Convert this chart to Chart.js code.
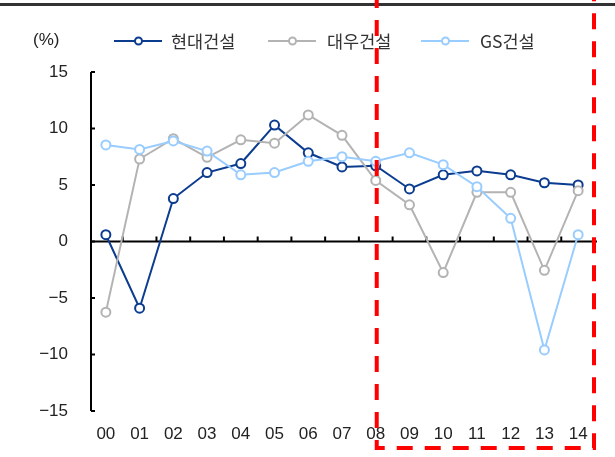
<!DOCTYPE html>
<html>
<head>
<meta charset="utf-8">
<script src="https://cdn.jsdelivr.net/npm/chart.js@4.4.1/dist/chart.umd.min.js"></script>
<style>
  html, body { margin: 0; padding: 0; background: #ffffff; }
  #wrap { position: relative; width: 615px; height: 457px; }
</style>
</head>
<body>
<div id="wrap"><canvas id="c" width="615" height="457"></canvas></div>
<script>
const categories = ['00','01','02','03','04','05','06','07','08','09','10','11','12','13','14'];
const hyundai = [0.6, -5.9, 3.8, 6.1, 6.9, 10.3, 7.85, 6.6, 6.7, 4.65, 5.9, 6.25, 5.9, 5.2, 5.0];
const daewoo  = [-6.25, 7.3, 9.1, 7.45, 9.0, 8.7, 11.2, 9.4, 5.4, 3.25, -2.75, 4.35, 4.35, -2.55, 4.5];
const gs      = [8.55, 8.15, 8.9, 8.0, 5.9, 6.1, 7.1, 7.5, 7.1, 7.85, 6.8, 4.85, 2.05, -9.6, 0.6];
const seriesNames = ['현대건설', '대우건설', 'GS건설'];
const seriesColors = ['#0b3c8f', '#b3b3b3', '#99ccff'];
const yTicks = [-15, -10, -5, 0, 5, 10, 15];
const unitLabel = '(%)';
const highlightFrom = '08';

const FONT = "'Liberation Sans', Arial, 'Noto Sans CJK KR', sans-serif";
const KFONT = "'Noto Sans CJK KR', 'Liberation Sans', sans-serif";

function ds(label, data, color) {
  return {
    label, data,
    borderColor: color,
    backgroundColor: '#ffffff',
    borderWidth: 2,
    pointRadius: 4.5,
    pointBorderWidth: 2,
    pointBackgroundColor: '#ffffff',
    pointBorderColor: color,
    pointHoverRadius: 4.5,
    tension: 0,
    clip: false
  };
}

const decor = {
  id: 'decor',
  beforeDatasetsDraw(chart) {
    const ctx = chart.ctx;
    const x = chart.scales.x, y = chart.scales.y;
    const ca = chart.chartArea;
    ctx.save();
    ctx.strokeStyle = '#000000';
    ctx.lineWidth = 2;
    const ax = ca.left + 2;
    ctx.beginPath();
    ctx.moveTo(ax, y.getPixelForValue(15));
    ctx.lineTo(ax, y.getPixelForValue(-15));
    ctx.stroke();
    yTicks.forEach(v => {
      const py = y.getPixelForValue(v);
      ctx.beginPath();
      ctx.moveTo(ax, py);
      ctx.lineTo(ax + 4, py);
      ctx.stroke();
    });
    const zy = y.getPixelForValue(0);
    ctx.beginPath();
    ctx.moveTo(ax, zy);
    ctx.lineTo(ca.right + 2, zy);
    ctx.stroke();
    for (let i = 1; i < categories.length; i++) {
      const px = (x.getPixelForValue(i - 1) + x.getPixelForValue(i)) / 2;
      ctx.beginPath();
      ctx.moveTo(px, zy);
      ctx.lineTo(px, zy - 5);
      ctx.stroke();
    }
    ctx.restore();
  },
  afterDraw(chart) {
    const ctx = chart.ctx;
    const x = chart.scales.x;
    const ca = chart.chartArea;
    ctx.save();
    ctx.fillStyle = '#333333';
    ctx.fillRect(0, 3, chart.width, 3);
    ctx.fillStyle = '#222222';
    ctx.font = '17px ' + FONT;
    ctx.textBaseline = 'middle';
    ctx.textAlign = 'left';
    ctx.fillText(unitLabel, 33, 40);
    const items = [
      { lx: 114, tx: 171 },
      { lx: 268, tx: 327 },
      { lx: 421, tx: 480 }
    ];
    items.forEach((it, i) => {
      ctx.strokeStyle = seriesColors[i];
      ctx.lineWidth = 2;
      ctx.beginPath();
      ctx.moveTo(it.lx, 41);
      ctx.lineTo(it.lx + 48, 41);
      ctx.stroke();
      ctx.beginPath();
      ctx.arc(it.lx + 24.5, 41, 3.5, 0, Math.PI * 2);
      ctx.fillStyle = '#ffffff';
      ctx.fill();
      ctx.stroke();
      ctx.fillStyle = '#333333';
      ctx.font = '17.5px ' + KFONT;
      ctx.textBaseline = 'middle';
      ctx.fillText(seriesNames[i], it.tx, 41);
    });
    const left = x.getPixelForValue(categories.indexOf(highlightFrom)) + 1;
    const right = ca.right - 1;
    const bottom = 448;
    ctx.strokeStyle = '#ff0000';
    ctx.lineWidth = 4;
    ctx.setLineDash([16, 12]);
    ctx.beginPath();
    ctx.moveTo(left, -8);
    ctx.lineTo(left, bottom);
    ctx.lineTo(right, bottom);
    ctx.lineTo(right, -8);
    ctx.stroke();
    ctx.restore();
  }
};

new Chart(document.getElementById('c'), {
  type: 'line',
  data: {
    labels: categories,
    datasets: [
      ds(seriesNames[0], hyundai, seriesColors[0]),
      ds(seriesNames[1], daewoo, seriesColors[1]),
      ds(seriesNames[2], gs, seriesColors[2])
    ].reverse()
  },
  options: {
    responsive: false,
    animation: false,
    events: [],
    layout: { padding: { top: 72, right: 20, left: 0, bottom: 0 } },
    plugins: { legend: { display: false }, tooltip: { enabled: false } },
    scales: {
      x: {
        offset: true,
        grid: { display: false, drawTicks: false },
        border: { display: false },
        ticks: {
          color: '#222222',
          font: { family: FONT, size: 17 },
          padding: 13,
          maxRotation: 0,
          autoSkip: false
        },
        afterFit(s) { s.height = 46; }
      },
      y: {
        min: -15, max: 15,
        grid: { display: false, drawTicks: false },
        border: { display: false },
        afterBuildTicks(s) { s.ticks = yTicks.map(v => ({ value: v })); },
        ticks: {
          color: '#222222',
          font: { family: FONT, size: 17 },
          padding: 21,
          callback: v => String(v).replace('-', '\u2212')
        },
        afterFit(s) { s.width = 89; }
      }
    }
  },
  plugins: [decor]
});
</script>
</body>
</html>
